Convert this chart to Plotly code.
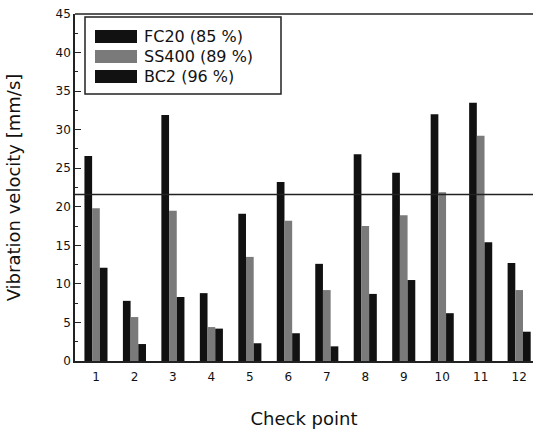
import plotly.graph_objects as go

check_points = [1, 2, 3, 4, 5, 6, 7, 8, 9, 10, 11, 12]
fc20 = [26.6, 7.8, 31.9, 8.8, 19.1, 23.2, 12.6, 26.8, 24.4, 32.0, 33.5, 12.7]
ss400 = [19.8, 5.7, 19.5, 4.4, 13.5, 18.2, 9.2, 17.5, 18.9, 21.9, 29.2, 9.2]
bc2 = [12.1, 2.2, 8.3, 4.2, 2.3, 3.6, 1.9, 8.7, 10.5, 6.2, 15.4, 3.8]
series_names = ["FC20 (85 %)", "SS400 (89 %)", "BC2 (96 %)"]
series_colors = ["#111111", "#7a7a7a", "#111111"]
limit_value = 21.6

W, H = 533, 429
L, R, T, B = 75, 0, 14, 68
pw, ph = W - L - R, H - T - B

def px_x(x):
    return (x - L) / pw

def px_y(y):
    return (H - B - y) / ph

fig = go.Figure()
for name, vals, col in zip(series_names, [fc20, ss400, bc2], series_colors):
    fig.add_trace(go.Bar(x=check_points, y=vals, name=name, marker=dict(color=col, line=dict(width=0)),
                         showlegend=False))

font_family = "DejaVu Sans, Liberation Sans, Arial, sans-serif"

shapes = [
    dict(type="line", xref="paper", yref="y", x0=0, x1=1, y0=limit_value, y1=limit_value,
         line=dict(color="#222", width=1.5)),
    dict(type="rect", xref="paper", yref="paper", x0=px_x(85), x1=px_x(281), y0=px_y(94), y1=px_y(17),
         line=dict(color="#222", width=1.5), fillcolor="white"),
]
annotations = []
rows = [(30, 43), (50, 63), (70, 83)]
for (y0, y1), name, col in zip(rows, series_names, series_colors):
    shapes.append(dict(type="rect", xref="paper", yref="paper", x0=px_x(95), x1=px_x(137),
                       y0=px_y(y1), y1=px_y(y0), line=dict(width=0), fillcolor=col))
    annotations.append(dict(xref="paper", yref="paper", x=px_x(142), y=px_y((y0 + y1) / 2),
                            text=name, showarrow=False, xanchor="left", yanchor="middle",
                            font=dict(size=16, color="#111", family=font_family)))

fig.update_layout(
    width=W, height=H,
    margin=dict(l=L, r=R, t=T, b=B),
    paper_bgcolor="white", plot_bgcolor="white",
    barmode="group", bargap=0.4, bargroupgap=0,
    font=dict(family=font_family, size=12, color="#111"),
    shapes=shapes, annotations=annotations,
    xaxis=dict(
        range=[0.455, 12.36], tickmode="array", tickvals=check_points,
        ticktext=[str(c) for c in check_points],
        showgrid=False, zeroline=False, showline=True, linecolor="#222", linewidth=1.5,
        mirror=False, ticks="", tickfont=dict(size=12, color="#111"), ticklabelstandoff=4,
        title=dict(text="Check point", font=dict(size=18, color="#111"), standoff=30),
    ),
    yaxis=dict(
        range=[0, 45], tickmode="linear", tick0=0, dtick=5,
        showgrid=False, zeroline=False, showline=True, linecolor="#222", linewidth=1.5,
        ticks="inside", ticklen=6, tickcolor="#222",
        minor=dict(ticks="inside", ticklen=3, dtick=2.5, tickcolor="#222"),
        tickfont=dict(size=12, color="#111"),
        title=dict(text="Vibration velocity [mm/s]", font=dict(size=18, color="#111"), standoff=30),
    ),
)
fig.add_shape(type="line", xref="paper", yref="paper", x0=0, x1=1, y0=1, y1=1,
              line=dict(color="#222", width=1.5))

fig.write_html(
    "out.html",
    config={"displayModeBar": False},
    post_script="document.documentElement.style.overflow='hidden';"
                "document.body.style.margin='0';document.body.style.overflow='hidden';",
)
